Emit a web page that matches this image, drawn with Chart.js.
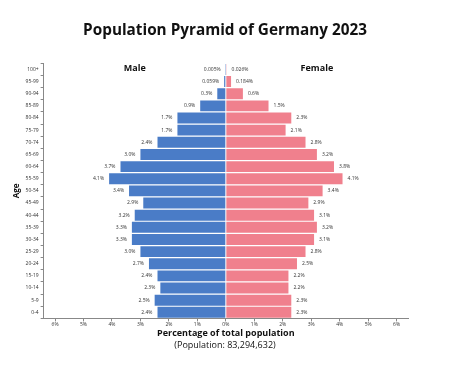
<!DOCTYPE html>
<html>
<head>
<meta charset="utf-8">
<script src="https://cdn.jsdelivr.net/npm/chart.js@4"></script>
<style>
  html, body { margin: 0; padding: 0; background: #fff; }
  #wrap { width: 450px; height: 377px; }
</style>
</head>
<body>
<div id="wrap"><canvas id="pyramid"></canvas></div>
<script>
var ageGroups = ['100+', '95-99', '90-94', '85-89', '80-84', '75-79', '70-74', '65-69', '60-64', '55-59',
  '50-54', '45-49', '40-44', '35-39', '30-34', '25-29', '20-24', '15-19', '10-14', '5-9', '0-4'];

var maleValues = [0.005, 0.059, 0.3, 0.9, 1.7, 1.7, 2.4, 3.0, 3.7, 4.1,
  3.4, 2.9, 3.2, 3.3, 3.3, 3.0, 2.7, 2.4, 2.3, 2.5, 2.4];
var femaleValues = [0.026, 0.184, 0.6, 1.5, 2.3, 2.1, 2.8, 3.2, 3.8, 4.1,
  3.4, 2.9, 3.1, 3.2, 3.1, 2.8, 2.5, 2.2, 2.2, 2.3, 2.3];

var maleLabels = ['0.005%', '0.059%', '0.3%', '0.9%', '1.7%', '1.7%', '2.4%', '3.0%', '3.7%', '4.1%',
  '3.4%', '2.9%', '3.2%', '3.3%', '3.3%', '3.0%', '2.7%', '2.4%', '2.3%', '2.5%', '2.4%'];
var femaleLabels = ['0.026%', '0.184%', '0.6%', '1.5%', '2.3%', '2.1%', '2.8%', '3.2%', '3.8%', '4.1%',
  '3.4%', '2.9%', '3.1%', '3.2%', '3.1%', '2.8%', '2.5%', '2.2%', '2.2%', '2.3%', '2.3%'];

var xTicks = [-6, -5, -4, -3, -2, -1, 0, 1, 2, 3, 4, 5, 6];

var FONT = "'Open Sans', sans-serif";

// bar value labels + Male / Female headers
var pyramidLabels = {
  id: 'pyramidLabels',
  afterDatasetsDraw: function(chart) {
    var c = chart.ctx;
    var area = chart.chartArea;
    c.save();
    c.fillStyle = '#333';
    c.font = '5px ' + FONT;
    c.textBaseline = 'middle';
    [maleLabels, femaleLabels].forEach(function(texts, di) {
      var meta = chart.getDatasetMeta(di);
      meta.data.forEach(function(bar, i) {
        if (di === 0) {
          c.textAlign = 'right';
          c.fillText(texts[i], bar.x - 5, bar.y);
        } else {
          c.textAlign = 'left';
          c.fillText(texts[i], bar.x + 5, bar.y);
        }
      });
    });
    c.fillStyle = '#111';
    c.font = 'bold 9px ' + FONT;
    c.textAlign = 'center';
    var mid = chart.scales.x.getPixelForValue(0);
    c.fillText('Male', (area.left + mid) / 2, area.top + 5);
    c.fillText('Female', (mid + area.right) / 2, area.top + 5);
    c.restore();
  }
};

var chart = new Chart(document.getElementById('pyramid'), {
  type: 'bar',
  data: {
    labels: ageGroups,
    datasets: [{
      label: 'Male',
      data: maleValues.map(function(v) { return -v; }),
      backgroundColor: '#4a7cc7',
      barPercentage: 0.9,
      categoryPercentage: 1.0
    }, {
      label: 'Female',
      data: femaleValues,
      backgroundColor: '#f0808d',
      barPercentage: 0.9,
      categoryPercentage: 1.0
    }]
  },
  options: {
    indexAxis: 'y',
    responsive: true,
    maintainAspectRatio: false,
    animation: false,
    layout: { padding: { left: 12, right: 12, top: 4, bottom: 6 } },
    plugins: {
      legend: { display: false },
      tooltip: { enabled: false },
      title: {
        display: true,
        text: 'Population Pyramid of Germany 2023',
        color: '#111',
        font: { family: FONT, size: 15.3, weight: 'bold' },
        padding: { top: 17, bottom: 24 }
      },
      subtitle: {
        display: true,
        position: 'bottom',
        text: '(Population: 83,294,632)',
        color: '#111',
        font: { family: FONT, size: 9 },
        padding: { top: 0, bottom: 20 }
      }
    },
    scales: {
      x: {
        stacked: true,
        min: -6.4,
        max: 6.4,
        afterBuildTicks: function(axis) {
          axis.ticks = xTicks.map(function(v) { return { value: v }; });
        },
        ticks: {
          color: '#333',
          font: { family: FONT, size: 5 },
          padding: 0,
          callback: function(v) { return Math.abs(v) + '%'; }
        },
        grid: { drawOnChartArea: false, drawTicks: true, tickLength: 3, color: '#888' },
        border: { display: true, color: '#888' },
        title: {
          display: true,
          text: 'Percentage of total population',
          color: '#111',
          font: { family: FONT, size: 9, weight: 'bold' },
          padding: { top: 1, bottom: 1 }
        }
      },
      y: {
        stacked: true,
        ticks: {
          color: '#333',
          font: { family: FONT, size: 5 },
          padding: 2
        },
        grid: { drawOnChartArea: false, drawTicks: true, tickLength: 3, color: '#888' },
        border: { display: true, color: '#888' },
        title: {
          display: true,
          text: 'Age',
          color: '#111',
          font: { family: FONT, size: 8, weight: 'bold' },
          padding: { top: 0, bottom: 2 }
        }
      },
      // empty right-hand axis, only reserves space so the plot sits like the original
      yRight: {
        type: 'category',
        position: 'right',
        ticks: { display: false },
        grid: { display: false },
        border: { display: false },
        afterFit: function(scale) { scale.width = 30; }
      }
    }
  },
  plugins: [pyramidLabels]
});
</script>
</body>
</html>
